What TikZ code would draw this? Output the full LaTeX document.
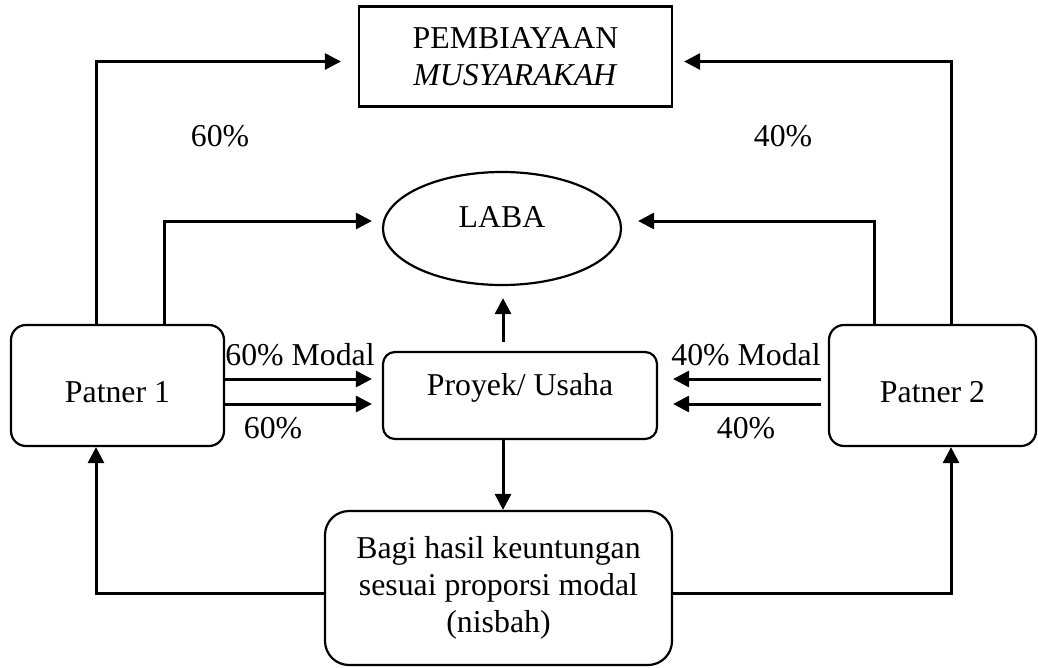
\documentclass[tikz,border=0pt]{standalone}
\usepackage{fontspec}
\setmainfont{Liberation Serif}
\usetikzlibrary{arrows.meta,shapes.geometric}
\begin{document}
\begin{tikzpicture}[x=1pt,y=-1pt,
  every node/.style={font=\fontsize{31.8}{37}\selectfont, inner sep=0pt},
  boxsq/.style={draw, line width=2.2pt, align=center},
  boxrd/.style={draw, line width=2.2pt, rounded corners=15pt, align=center},
  oval/.style={draw, line width=2.2pt, ellipse},
  arr/.style={line width=3pt, -{Triangle[length=16pt,width=16pt]}},
  tag/.style={anchor=base}]
\useasboundingbox (0,0) rectangle (1038,667);

% boxes
\node[boxsq, minimum width=313pt, minimum height=100pt] (pemb) at (515.5,56.5)
  {PEMBIAYAAN\\\textit{MUSYARAKAH}};
\node[oval, minimum width=238pt, minimum height=113pt, text height=20pt, text depth=23pt]
  (laba) at (502,228.5) {LABA};
\node[boxrd, minimum width=213pt, minimum height=121pt, text height=33pt, text depth=0pt]
  (p1) at (117.5,385.5) {Patner 1};
\node[boxrd, minimum width=207pt, minimum height=121pt, text height=33pt, text depth=0pt]
  (p2) at (932.5,385.5) {Patner 2};
\node[boxrd, rounded corners=12pt, minimum width=274pt, minimum height=87pt,
  text height=20.5pt, text depth=20.5pt] (proyek) at (520,395.5) {Proyek/ Usaha};
\node[boxrd, rounded corners=24pt, minimum width=347pt, minimum height=154pt]
  (bagi) at (498.5,588) {Bagi hasil keuntungan\\sesuai proporsi modal\\(nisbah)};

% contributions to the financing
\draw[arr, shorten >=17pt] (p1.north -| 96,0) |- ([yshift=-5pt]pemb.west);
\draw[arr, shorten >=11pt] (p2.north -| 951,0) |- ([yshift=-5pt]pemb.east);

% flows into profit
\draw[arr, shorten >=10pt] (p1.north -| 164,0) |- ([yshift=7.5pt]laba.west);
\draw[arr, shorten >=16pt] (p2.north -| 874,0) |- ([yshift=7.5pt]laba.east);
\draw[arr, shorten <=9pt, shorten >=12pt] (proyek.north -| 503,0) -- (laba.south -| 503,0);

% capital into the project
\draw[arr, shorten >=10pt] (p1.east |- 0,379) -- (proyek.west |- 0,379);
\draw[arr, shorten >=10pt] (p1.east |- 0,404) -- (proyek.west |- 0,404);
\draw[arr, shorten <=7pt, shorten >=15pt] (p2.west |- 0,379) -- (proyek.east |- 0,379);
\draw[arr, shorten <=7pt, shorten >=15pt] (p2.west |- 0,404) -- (proyek.east |- 0,404);

% profit sharing
\draw[arr] (proyek.south -| 503,0) -- (bagi.north -| 503,0);
\draw[arr] (bagi.west |- 0,593) -| (p1.south -| 96,0);
\draw[arr] (bagi.east |- 0,593) -| (p2.south -| 951,0);

% labels
\node[tag] (l60top) at (220,146) {60\%};
\node[tag] (l40top) at (783,146) {40\%};
\node[tag] (l60mod) at (300,365) {60\% Modal};
\node[tag] (l60) at (273,438) {60\%};
\node[tag] (l40mod) at (746,365) {40\% Modal};
\node[tag] (l40) at (746,438) {40\%};
\end{tikzpicture}
\end{document}
